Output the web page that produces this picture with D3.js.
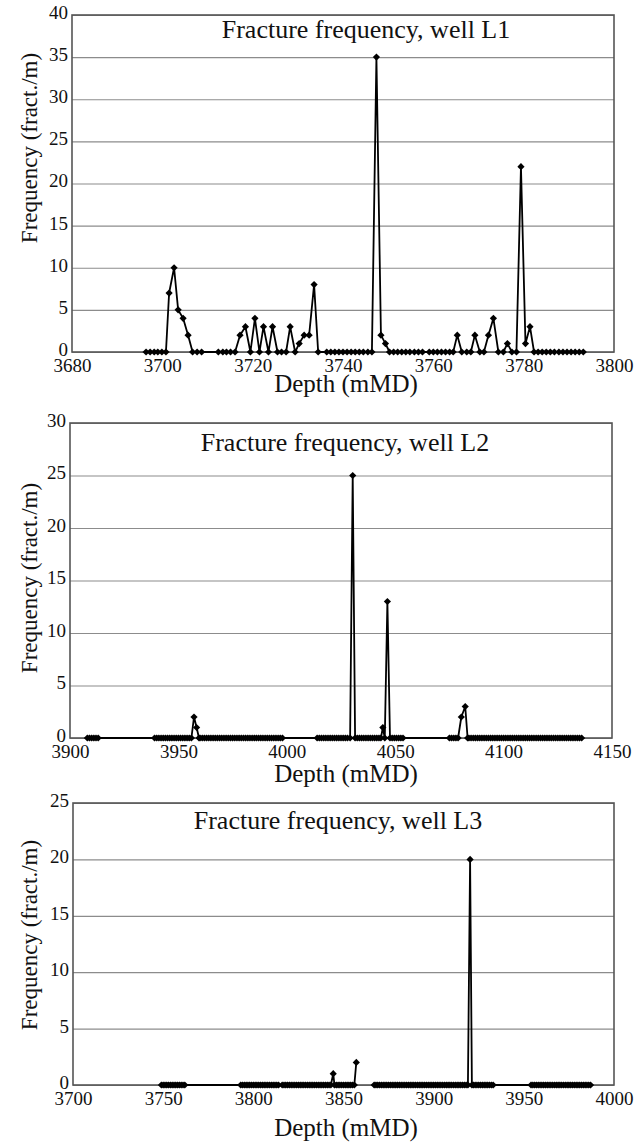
<!DOCTYPE html>
<html>
<head>
<meta charset="utf-8">
<script src="https://cdn.jsdelivr.net/npm/d3@7"></script>
<style>
body{margin:0;background:#fff;}
svg text{font-family:"Liberation Serif","DejaVu Serif","Times New Roman",serif !important;}
</style>
</head>
<body>
<script>
// ---- data: [depth (mMD), frequency (fract./m)], null = break in the line
const wellL1 = [
  [3696.4,0],[3697.3,0],[3698.2,0],[3699.0,0],[3699.9,0],[3700.8,0],[3701.5,7],[3702.6,10],[3703.5,5],[3704.6,4],[3705.7,2],[3706.7,0],[3707.7,0],[3708.7,0],
  [3712.4,0],[3713.4,0],[3714.2,0],[3715.1,0],[3716.1,0],[3717.2,2],[3718.4,3],[3719.5,0],[3720.5,4],[3721.5,0],[3722.4,3],[3723.5,0],[3724.4,3],[3725.5,0],
  [3726.4,0],[3727.4,0],[3728.3,3],[3729.4,0],[3730.3,1],[3731.4,2],[3732.5,2],[3733.6,8],[3734.5,0],
  [3736.4,0],[3737.3,0],[3738.2,0],[3739.1,0],[3740.0,0],[3740.9,0],[3741.8,0],[3742.7,0],[3743.6,0],[3744.5,0],[3745.5,0],[3746.4,0],
  [3747.4,35],[3748.4,2],[3749.4,1],
  [3750.3,0],[3751.2,0],[3752.1,0],[3753.0,0],[3753.9,0],[3754.8,0],[3755.8,0],[3756.7,0],[3757.6,0],
  [3759.1,0],[3760.0,0],[3760.9,0],[3761.8,0],[3762.7,0],[3763.6,0],[3764.4,0],[3765.3,2],[3766.3,0],[3767.4,0],[3768.3,0],[3769.2,2],
  [3770.3,0],[3771.2,0],[3772.2,2],[3773.3,4],[3774.4,0],[3775.5,0],[3776.4,1],[3777.4,0],[3778.4,0],[3779.4,22],[3780.4,1],[3781.4,3],
  [3782.3,0],[3783.2,0],[3784.1,0],[3785.0,0],[3785.9,0],[3786.8,0],[3787.8,0],[3788.7,0],[3789.6,0],[3790.5,0],[3791.4,0],[3792.3,0],[3793.2,0]
];
const wellL2 = [
  [3908,0],[3909,0],[3910,0],[3911,0],[3912,0],[3913,0],
  [3939,0],[3940,0],[3941,0],[3942,0],[3943,0],[3944,0],[3945,0],[3946,0],[3947,0],[3948,0],[3949,0],[3950,0],[3951,0],[3952,0],
  [3953,0],[3954,0],[3955,0],[3956,0],[3957.2,2],[3958.4,1],[3959.5,0],
  [3960,0],[3961,0],[3962,0],[3963,0],[3964,0],[3965,0],[3966,0],[3967,0],[3968,0],[3969,0],[3970,0],[3971,0],[3972,0],[3973,0],
  [3974,0],[3975,0],[3976,0],[3977,0],[3978,0],[3979,0],[3980,0],[3981,0],[3982,0],[3983,0],[3984,0],[3985,0],[3986,0],[3987,0],
  [3988,0],[3989,0],[3990,0],[3991,0],[3992,0],[3993,0],[3994,0],[3995,0],[3996,0],[3997,0],[3998,0],
  [4014,0],[4015,0],[4016,0],[4017,0],[4018,0],[4019,0],[4020,0],[4021,0],[4022,0],[4023,0],[4024,0],[4025,0],[4026,0],[4027,0],
  [4028,0],[4029.2,0],[4030.4,25],[4031.5,0],
  [4032.5,0],[4033.5,0],[4034.5,0],[4035.5,0],[4036.5,0],[4037.5,0],[4038.5,0],[4039.5,0],[4040.5,0],[4041.5,0],[4042.5,0],
  [4043.4,0],[4044.3,1],[4045.2,0],[4046.4,13],[4047.6,0],
  [4048.6,0],[4049.6,0],[4050.6,0],[4051.6,0],[4052.6,0],[4053.6,0],
  [4075,0],[4076,0],[4077,0],[4078,0],[4079,0],[4080.5,2],[4082.3,3],[4083.4,0],
  [4084,0],[4085,0],[4086,0],[4087,0],[4088,0],[4089,0],[4090,0],[4091,0],[4092,0],[4093,0],[4094,0],[4095,0],[4096,0],[4097,0],
  [4098,0],[4099,0],[4100,0],[4101,0],[4102,0],[4103,0],[4104,0],[4105,0],[4106,0],[4107,0],[4108,0],[4109,0],[4110,0],[4111,0],
  [4112,0],[4113,0],[4114,0],[4115,0],[4116,0],[4117,0],[4118,0],[4119,0],[4120,0],[4121,0],[4122,0],[4123,0],[4124,0],[4125,0],
  [4126,0],[4127,0],[4128,0],[4129,0],[4130,0],[4131,0],[4132,0],[4133,0],[4134,0],[4135,0],[4136,0]
];
const wellL3 = [
  [3749,0],[3750,0],[3751,0],[3752,0],[3753,0],[3754,0],[3755,0],[3756,0],[3757,0],[3758,0],[3759,0],[3760,0],[3761,0],[3762,0],
  [3793,0],[3794,0],[3795,0],[3796,0],[3797,0],[3798,0],[3799,0],[3800,0],[3801,0],[3802,0],[3803,0],[3804,0],[3805,0],[3806,0],
  [3807,0],[3808,0],[3809,0],[3810,0],[3811,0],[3812,0],[3813,0],[3814,0],
  [3816,0],[3817,0],[3818,0],[3819,0],[3820,0],[3821,0],[3822,0],[3823,0],[3824,0],[3825,0],[3826,0],[3827,0],[3828,0],[3829,0],
  [3830,0],[3831,0],[3832,0],[3833,0],[3834,0],[3835,0],[3836,0],[3837,0],[3838,0],[3839,0],[3840,0],[3841,0],[3842,0],[3843,0],
  [3844.3,1],[3845,0],[3846,0],[3847,0],[3848,0],[3849,0],[3850,0],[3851,0],[3852,0],[3853,0],[3854,0],[3855,0],[3856,0],[3857.1,2],
  null,
  [3867,0],[3868,0],[3869,0],[3870,0],[3871,0],[3872,0],[3873,0],[3874,0],[3875,0],[3876,0],[3877,0],[3878,0],[3879,0],[3880,0],
  [3881,0],[3882,0],[3883,0],[3884,0],[3885,0],[3886,0],[3887,0],[3888,0],[3889,0],[3890,0],[3891,0],[3892,0],[3893,0],[3894,0],
  [3895,0],[3896,0],[3897,0],[3898,0],[3899,0],[3900,0],[3901,0],[3902,0],[3903,0],[3904,0],[3905,0],[3906,0],[3907,0],[3908,0],
  [3909,0],[3910,0],[3911,0],[3912,0],[3913,0],[3914,0],[3915,0],[3916,0],[3917,0],[3918,0],[3919,0],[3920.2,20],
  [3921.2,0],[3922,0],[3923,0],[3924,0],[3925,0],[3926,0],[3927,0],[3928,0],[3929,0],[3930,0],[3931,0],[3932,0],[3933,0],
  [3954,0],[3955,0],[3956,0],[3957,0],[3958,0],[3959,0],[3960,0],[3961,0],[3962,0],[3963,0],[3964,0],[3965,0],[3966,0],[3967,0],
  [3968,0],[3969,0],[3970,0],[3971,0],[3972,0],[3973,0],[3974,0],[3975,0],[3976,0],[3977,0],[3978,0],[3979,0],[3980,0],[3981,0],
  [3982,0],[3983,0],[3984,0],[3985,0],[3986,0],[3987,0]
];

const xTicksL1 = [3680,3700,3720,3740,3760,3780,3800];
const xTicksL2 = [3900,3950,4000,4050,4100,4150];
const xTicksL3 = [3700,3750,3800,3850,3900,3950,4000];
const yTicksL1 = [0,5,10,15,20,25,30,35,40];
const yTicksL2 = [0,5,10,15,20,25,30];
const yTicksL3 = [0,5,10,15,20,25];
const titles = ["Fracture frequency, well L1","Fracture frequency, well L2","Fracture frequency, well L3"];
const xTitle = "Depth (mMD)";
const yTitle = "Frequency (fract./m)";

// ---- layout
const W = 639, H = 1142;
const FONT = "'Liberation Serif', 'DejaVu Serif', 'Times New Roman', serif";
const panels = [
  {data: wellL1, xt: xTicksL1, yt: yTicksL1, title: titles[0],
   left: 72, right: 614, top: 15, bottom: 352, titleX: 366, titleY: 38, yLabY: 148, xLabY: 392},
  {data: wellL2, xt: xTicksL2, yt: yTicksL2, title: titles[1],
   left: 70, right: 612, top: 423, bottom: 738, titleX: 345, titleY: 451, yLabY: 578, xLabY: 782},
  {data: wellL3, xt: xTicksL3, yt: yTicksL3, title: titles[2],
   left: 73, right: 614, top: 803, bottom: 1085, titleX: 338, titleY: 829, yLabY: 935, xLabY: 1136}
];

const SVG = d3.select("body").append("svg").attr("width", W).attr("height", H);
SVG.append("rect").attr("width", W).attr("height", H).attr("fill", "#fff");

let drawPanel = (p) => {
  let x = d3.scaleLinear().domain([p.xt[0], p.xt[p.xt.length-1]]).range([p.left, p.right]);
  let y = d3.scaleLinear().domain([0, p.yt[p.yt.length-1]]).range([p.bottom, p.top]);
  let g = SVG.append("g");

  // grid + y labels
  let ya = g.append("g").attr("transform", "translate("+p.left+",0)")
    .call(d3.axisLeft(y).tickValues(p.yt).tickFormat(d3.format("d"))
      .tickSize(-(p.right-p.left)).tickPadding(4));
  ya.attr("font-family", null);
  ya.select(".domain").remove();
  ya.selectAll("line").attr("stroke", "#8c8c8c").attr("stroke-width", 1.2);
  ya.selectAll("text").attr("font-size", 19).attr("fill", "#111").attr("dy", "0.18em").style("font-family", FONT);

  // x labels
  let xa = g.append("g").attr("transform", "translate(0,"+p.bottom+")")
    .call(d3.axisBottom(x).tickValues(p.xt).tickFormat(d3.format("d")).tickSize(0).tickPadding(7));
  xa.attr("font-family", null);
  xa.select(".domain").remove();
  xa.selectAll("text").attr("font-size", 19).attr("fill", "#111").style("font-family", FONT);

  // frame
  g.append("rect").attr("x", p.left).attr("y", p.top)
    .attr("width", p.right-p.left).attr("height", p.bottom-p.top)
    .attr("fill", "none").attr("stroke", "#555").attr("stroke-width", 1.6);

  // series
  let line = d3.line().defined(d => d !== null).x(d => x(d[0])).y(d => y(d[1]));
  g.append("path").datum(p.data).attr("d", line)
    .attr("fill", "none").attr("stroke", "#000").attr("stroke-width", 1.8).attr("stroke-linejoin", "round");
  let sym = d3.symbol().type(d3.symbolSquare).size(26);
  g.selectAll(".mk").data(p.data.filter(d => d !== null)).enter().append("path")
    .attr("class", "mk").attr("d", sym)
    .attr("transform", d => "translate("+x(d[0])+","+y(d[1])+") rotate(45)")
    .attr("fill", "#000");

  // texts
  g.append("text").attr("x", p.titleX).attr("y", p.titleY).attr("text-anchor", "middle")
    .attr("font-size", 26).attr("fill", "#111").style("font-family", FONT).text(p.title);
  g.append("text").attr("x", 346).attr("y", p.xLabY).attr("text-anchor", "middle")
    .attr("font-size", 25).attr("fill", "#111").style("font-family", FONT).text(xTitle);
  g.append("text").attr("transform", "translate(37,"+p.yLabY+") rotate(-90)").attr("text-anchor", "middle")
    .attr("font-size", 23).attr("fill", "#111").style("font-family", FONT).text(yTitle);
};

panels.forEach(drawPanel);
</script>
</body>
</html>
